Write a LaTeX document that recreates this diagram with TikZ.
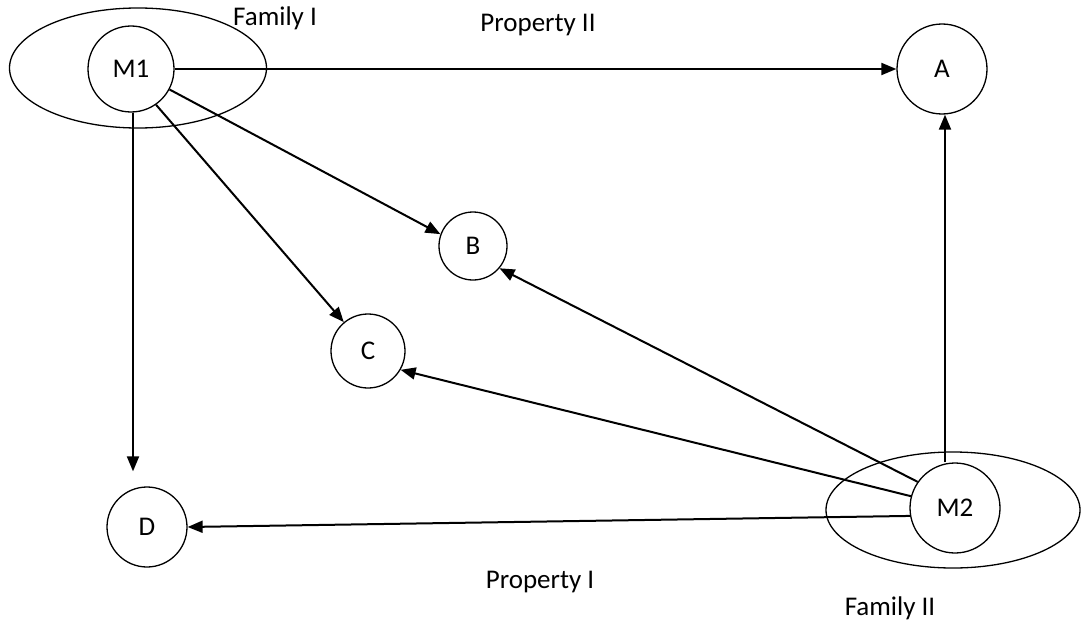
\documentclass[tikz,border=0pt]{standalone}
\usepackage{fontspec}
\setmainfont{Carlito}
\usetikzlibrary{arrows.meta,shapes.geometric}
\begin{document}
\begin{tikzpicture}[x=1pt,y=-1pt,
  circ/.style={draw,circle,line width=1.3pt,inner sep=0pt,font=\fontsize{27}{32}\selectfont},
  fam/.style={draw,ellipse,line width=1.3pt,inner sep=0pt},
  lbl/.style={font=\fontsize{27}{32}\selectfont,inner sep=0pt},
  arr/.style={line width=2pt,-{Triangle[length=15pt,width=12pt]}}]
\useasboundingbox (0,0) rectangle (1081,626);
\node[fam,minimum width=257pt,minimum height=120pt] (f1) at (138,68) {};
\node[fam,minimum width=254pt,minimum height=116pt] (f2) at (953,510) {};
\node[circ,minimum size=86pt,fill=white] (m1) at (131,69) {M1};
\node[circ,minimum size=90pt] (a) at (942,69) {A};
\node[circ,minimum size=68pt] (b) at (473,246) {B};
\node[circ,minimum size=74pt] (c) at (368,351) {C};
\node[circ,minimum size=80pt] (d) at (147,527) {D};
\node[circ,minimum size=90pt,fill=white] (m2) at (955,508) {M2};
\node[lbl] (t1) at (275,18) {Family I};
\node[lbl] (t2) at (538,25) {Property II};
\node[lbl] (t3) at (540,582) {Property I};
\node[lbl] (t4) at (890,608) {Family II};
\draw[arr] (m1.east) -- (a.west);
\draw[arr,shorten >=15pt] (m1.south -| 133,0) -- (d.north -| 133,0);
\draw[arr] (m1.-28) -- (b.160);
\draw[arr] (m1.-55) -- (c.130);
\draw[arr] (m2.north -| 945,0) -- (a.south -| 945,0);
\draw[arr] (m2.145) -- (b.-40);
\draw[arr] (m2.165) -- (c.-30);
\draw[arr] (m2.-170) -- (d.east);
\end{tikzpicture}
\end{document}
